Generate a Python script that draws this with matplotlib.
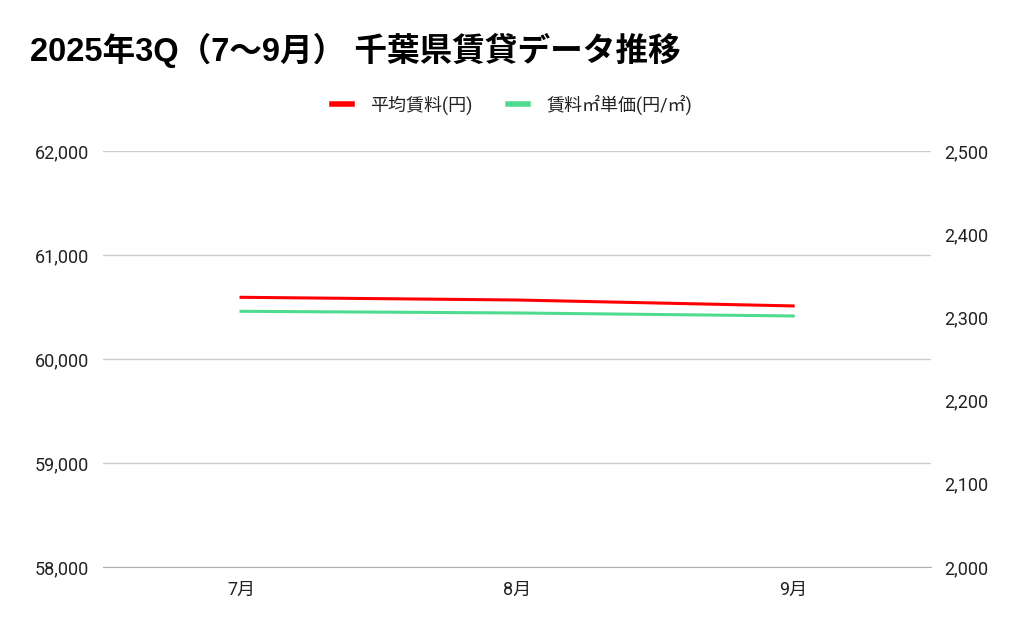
# 2025年3Q 千葉県賃貸データ推移 - dual axis line chart
import matplotlib
matplotlib.use('Agg')
import matplotlib.pyplot as plt
from matplotlib.ticker import FuncFormatter

plt.rcParams['font.family'] = ['Roboto', 'Noto Sans CJK JP', 'DejaVu Sans']

# --- data ---
months = ['7月', '8月', '9月']
avg_rent = [60593, 60567, 60510]          # 平均賃料(円)
rent_per_m2 = [2307.3, 2305.3, 2301.7]    # 賃料㎡単価(円/㎡)

left_ticks = [58000, 59000, 60000, 61000, 62000]
right_ticks = [2000, 2100, 2200, 2300, 2400, 2500]

red = '#ff0000'
green = '#4fdb8d'
label_color = '#222222'

fig = plt.figure(figsize=(10.24, 6.33), dpi=100)
ax = fig.add_axes([0.1006, 0.1043, 0.8088, 0.6572])
ax2 = ax.twinx()

x = range(len(months))
l1, = ax.plot(x, avg_rent, color=red, lw=2.2, label='平均賃料(円)')
l2, = ax2.plot(x, rent_per_m2, color=green, lw=2.2, label='賃料㎡単価(円/㎡)')

ax.set_xlim(-0.5, 2.5)
ax.set_ylim(58000, 62000)
ax2.set_ylim(2000, 2500)
ax.set_yticks(left_ticks)
ax2.set_yticks(right_ticks)
ax.set_xticks(list(x))
ax.set_xticklabels(months)

fmt = FuncFormatter(lambda v, p: f'{int(v):,}')
ax.yaxis.set_major_formatter(fmt)
ax2.yaxis.set_major_formatter(fmt)

ax.grid(axis='y', color='#cccccc', lw=1)
ax.set_axisbelow(True)
for a in (ax, ax2):
    for s in a.spines.values():
        s.set_visible(False)
    a.tick_params(length=0, labelsize=13, colors=label_color)
ax.spines['bottom'].set_visible(True)
ax.spines['bottom'].set_color('#b0b0b0')
ax.tick_params(axis='y', pad=10)
ax2.tick_params(axis='y', pad=9)
ax.tick_params(axis='x', pad=10)

fig.text(0.029, 0.92, '2025年3Q（7～9月） 千葉県賃貸データ推移', fontsize=23.5,
         fontweight='bold', ha='left', va='center',
         family=['Liberation Sans', 'Noto Sans CJK JP'])

fig.legend(handles=[l1, l2], loc='center', bbox_to_anchor=(0.5, 0.835), ncol=2,
           frameon=False, fontsize=13, handlelength=1.1, handletextpad=1.0,
           columnspacing=2.0, labelcolor=label_color)
for h in fig.legends[0].legend_handles:
    h.set_linewidth(4)

fig.savefig('out.png', dpi=100, facecolor='white')
